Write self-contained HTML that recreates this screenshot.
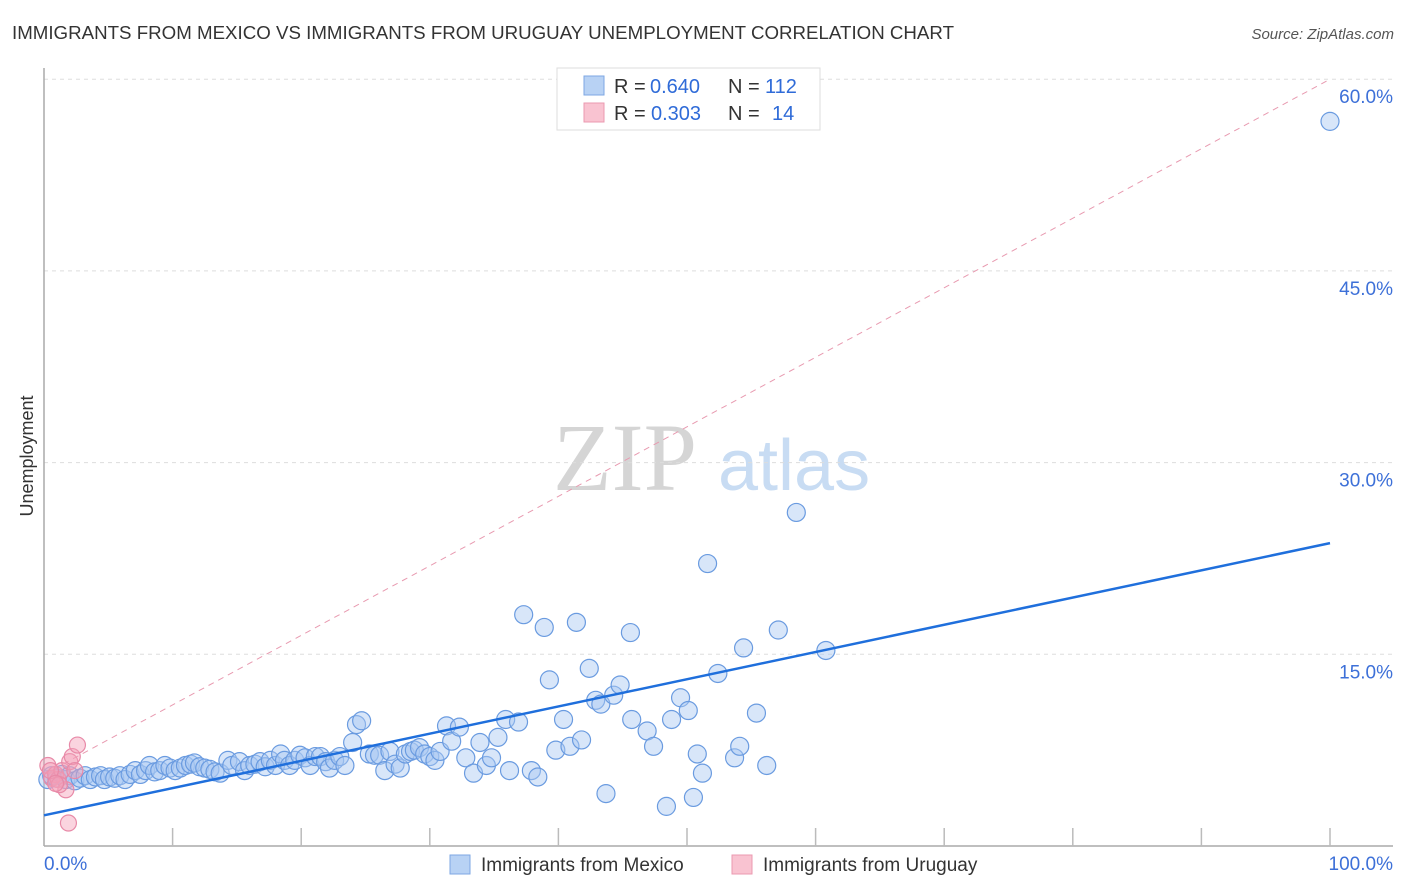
<!DOCTYPE html>
<html><head><meta charset="utf-8"><style>
body{margin:0;background:#fff;font-family:"Liberation Sans",sans-serif}
svg{display:block}
</style></head><body>
<svg width="1406" height="892" xmlns="http://www.w3.org/2000/svg">
<text x="12" y="39" font-size="18" fill="#333" textLength="942" lengthAdjust="spacingAndGlyphs">IMMIGRANTS FROM MEXICO VS IMMIGRANTS FROM URUGUAY UNEMPLOYMENT CORRELATION CHART</text>
<text x="1394" y="39" font-size="15" fill="#555" font-style="italic" text-anchor="end">Source: ZipAtlas.com</text>
<g>
<text x="553" y="490" font-size="96" font-family="Liberation Serif,serif" fill="#d5d5d5">ZIP</text>
<text x="718" y="490" font-size="72" fill="#c8dcf3">atlas</text>
</g>
<text transform="translate(33,456) rotate(-90)" font-size="18" fill="#333" text-anchor="middle">Unemployment</text>
<g id="grid"></g>
<g id="axes"></g>
<g id="marks"></g>
<g>
<rect x="557" y="68" width="263" height="62" fill="#fff" stroke="#ddd"/>
<rect x="584" y="76" width="20" height="19" fill="#b8d2f4" stroke="#7ea7e3"/>
<rect x="584" y="103" width="20" height="19" fill="#f9c3d1" stroke="#eb99b0"/>
<text y="93" font-size="20" fill="#333"><tspan x="614">R =</tspan><tspan x="650" fill="#2f6bd8">0.640</tspan><tspan x="728">N =</tspan><tspan x="765" fill="#2f6bd8">112</tspan></text>
<text y="120" font-size="20" fill="#333"><tspan x="614">R =</tspan><tspan x="651" fill="#2f6bd8">0.303</tspan><tspan x="728">N =</tspan><tspan x="772" fill="#2f6bd8">14</tspan></text>
</g>
<g>
<rect x="450" y="855" width="20" height="19" fill="#b8d2f4" stroke="#7ea7e3"/>
<text x="481" y="871" font-size="19" fill="#333">Immigrants from Mexico</text>
<rect x="732" y="855" width="20" height="19" fill="#f9c3d1" stroke="#eb99b0"/>
<text x="763" y="871" font-size="19" fill="#333">Immigrants from Uruguay</text>
</g>
</svg>
<script>
const yTicks=[15,30,45,60];
const yTickLabels=["15.0%","30.0%","45.0%","60.0%"];
const xTickVals=[10,20,30,40,50,60,70,80,90,100];
const xEndLabels=["0.0%","100.0%"];
const mexX=[0.3,0.6,1.0,1.4,1.7,2.0,2.4,2.8,3.2,3.6,4.0,4.4,4.7,5.1,5.5,5.9,6.3,6.7,7.1,7.5,7.9,8.2,8.6,9.0,9.4,9.8,10.2,10.6,11.0,11.4,11.7,12.1,12.5,12.9,13.3,13.7,14.3,14.6,15.2,15.6,16.0,16.4,16.8,17.2,17.6,18.0,18.4,18.7,19.1,19.5,19.9,20.3,20.7,21.1,21.5,21.9,22.2,22.6,23.0,23.4,24.0,24.3,24.7,25.3,25.7,26.1,26.5,26.9,27.3,27.7,28.1,28.5,28.8,29.2,29.6,30.0,30.4,30.8,31.3,31.7,32.3,32.8,33.4,33.9,34.4,34.8,35.3,35.9,36.2,36.9,37.3,37.9,38.4,38.9,39.3,39.8,40.4,40.9,41.4,41.8,42.4,42.9,43.3,43.7,44.3,44.8,45.6,45.7,46.9,47.4,48.4,48.8,49.5,50.1,50.5,50.8,51.2,51.6,52.4,53.7,54.1,54.4,55.4,56.2,57.1,58.5,60.8,100];
const mexY=[5.2,5.5,5.3,5.6,5.2,5.5,5.1,5.3,5.5,5.2,5.4,5.5,5.2,5.4,5.3,5.5,5.2,5.6,5.9,5.6,5.9,6.3,5.8,5.9,6.3,6.1,5.9,6.1,6.3,6.4,6.5,6.2,6.1,6.0,5.8,5.7,6.7,6.3,6.6,5.9,6.3,6.4,6.6,6.2,6.7,6.3,7.2,6.7,6.3,6.7,7.1,6.9,6.3,7.0,7.0,6.6,6.1,6.7,7.0,6.3,8.1,9.5,9.8,7.2,7.1,7.1,5.9,7.4,6.4,6.1,7.2,7.4,7.5,7.7,7.2,7.0,6.7,7.4,9.4,8.2,9.3,6.9,5.7,8.1,6.3,6.9,8.5,9.9,5.9,9.7,18.1,5.9,5.4,17.1,13.0,7.5,9.9,7.8,17.5,8.3,13.9,11.4,11.1,4.1,11.8,12.6,16.7,9.9,9.0,7.8,3.1,9.9,11.6,10.6,3.8,7.2,5.7,22.1,13.5,6.9,7.8,15.5,10.4,6.3,16.9,26.1,15.3,56.7];
const uruX=[0.3,0.6,0.9,1.1,1.4,1.7,1.9,2.0,2.2,2.4,2.6,1.2,0.5,0.9];
const uruY=[6.3,5.3,5.6,5.2,5.9,4.4,1.8,6.6,7.0,5.9,7.9,4.8,5.9,4.9];
const mexTrend=[2.4,23.7];
const uruTrend=[5.6,60.0];
const NS="http://www.w3.org/2000/svg";
const X=v=>44+v*12.86, Y=v=>846-v*12.78;
function mk(tag,attrs,parent,text){const e=document.createElementNS(NS,tag);for(const k in attrs)e.setAttribute(k,attrs[k]);if(text!==undefined)e.textContent=text;document.getElementById(parent).appendChild(e);return e;}
yTicks.forEach((t,i)=>{
 const g=mk('line',{x1:44,x2:1393,y1:Y(t),y2:Y(t),stroke:'#ddd','stroke-dasharray':'4,4'},'grid');
 
 
 const l=mk('text',{x:1393,y:Y(t)+24,'font-size':19,fill:'#3d70d8','text-anchor':'end'},'grid',yTickLabels[i]);
 
 
});
const ya=mk('line',{x1:44,x2:44,y1:68,y2:846,stroke:'#aaa','stroke-width':1.5},'axes');


const xa=mk('line',{x1:44,x2:1393,y1:846,y2:846,stroke:'#aaa','stroke-width':1.5},'axes');


xTickVals.forEach(t=>{const k=mk('line',{x1:X(t),x2:X(t),y1:828,y2:846,stroke:'#bbb','stroke-width':1.5},'axes');
 
 });
const l0=mk('text',{x:44,y:870,'font-size':19,fill:'#3d70d8'},'axes',xEndLabels[0]);


const l1=mk('text',{x:1393,y:870,'font-size':19,fill:'#3d70d8','text-anchor':'end'},'axes',xEndLabels[1]);


const ut=mk('line',{x1:X(0),y1:Y(uruTrend[0]),x2:X(100),y2:Y(uruTrend[1]),stroke:'#e89ab0','stroke-width':1,'stroke-dasharray':'6,5'},'marks');


mexX.forEach((x,i)=>{const c=mk('circle',{cx:X(x),cy:Y(mexY[i]),r:9,fill:'rgba(168,200,242,0.45)',stroke:'#6a9be0','stroke-width':1.2},'marks');
 
 });
uruX.forEach((x,i)=>{const c=mk('circle',{cx:X(x),cy:Y(uruY[i]),r:8,fill:'rgba(244,160,185,0.45)',stroke:'#e88aa8','stroke-width':1.2},'marks');
 
 });
const mt=mk('line',{x1:X(0),y1:Y(mexTrend[0]),x2:X(100),y2:Y(mexTrend[1]),stroke:'#1f6fdc','stroke-width':2.5},'marks');


</script>
</body></html>
